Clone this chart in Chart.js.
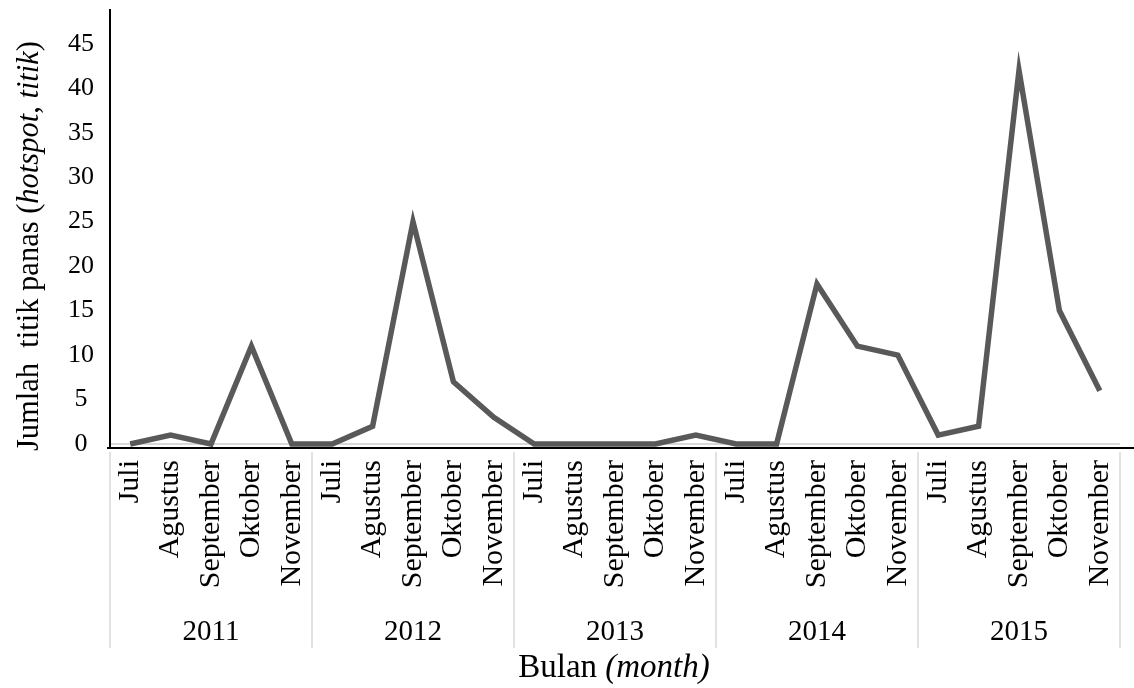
<!DOCTYPE html>
<html>
<head>
<meta charset="utf-8">
<script src="https://cdn.jsdelivr.net/npm/chart.js@4.4.1/dist/chart.umd.min.js"></script>
<style>
  body { margin: 0; background: #fff; }
  canvas { display: block; }
</style>
</head>
<body>
<canvas id="hotspotChart" width="1134" height="688"></canvas>
<script>
const months = ["Juli", "Agustus", "September", "Oktober", "November"];
const years = ["2011", "2012", "2013", "2014", "2015"];
const hotspots = [0, 1, 0, 11, 0, 0, 2, 25, 7, 3, 0, 0, 0, 0, 1, 0, 0, 18, 11, 10, 1, 2, 42, 15, 6];
const yTicks = [0, 5, 10, 15, 20, 25, 30, 35, 40, 45];

const labels = [];
years.forEach(() => months.forEach(m => labels.push(m)));

const serif = "'Liberation Serif', 'Times New Roman', serif";

// draw a line of text made of upright and italic pieces, centred on (x, y)
function mixedText(ctx, parts, x, y, size, angle) {
  ctx.save();
  ctx.translate(x, y);
  ctx.rotate(angle);
  ctx.textBaseline = "middle";
  ctx.textAlign = "left";
  ctx.fillStyle = "#000";
  let total = 0;
  parts.forEach(p => {
    ctx.font = (p.italic ? "italic " : "") + size + "px " + serif;
    p.w = ctx.measureText(p.t).width;
    total += p.w;
  });
  let cx = -total / 2;
  parts.forEach(p => {
    ctx.font = (p.italic ? "italic " : "") + size + "px " + serif;
    ctx.fillText(p.t, cx, 0);
    cx += p.w;
  });
  ctx.restore();
}

const extras = {
  id: "extras",
  afterDraw(chart) {
    const ctx = chart.ctx;
    const area = chart.chartArea;
    const xs = chart.scales.x;

    // x axis line, runs past the plot to the edge
    ctx.save();
    ctx.strokeStyle = "#000";
    ctx.lineWidth = 2;
    ctx.beginPath();
    ctx.moveTo(area.left - 3, area.bottom);
    ctx.lineTo(1134, area.bottom);
    ctx.stroke();

    // year group separators and labels
    ctx.strokeStyle = "#d9d9d9";
    ctx.lineWidth = 1.5;
    for (let g = 0; g <= years.length; g++) {
      const x = xs.getPixelForValue(g * months.length - 0.5);
      ctx.beginPath();
      ctx.moveTo(x, area.bottom + 4);
      ctx.lineTo(x, 648);
      ctx.stroke();
    }
    ctx.fillStyle = "#000";
    ctx.font = "29px " + serif;
    ctx.textAlign = "center";
    ctx.textBaseline = "middle";
    years.forEach((y, g) => {
      ctx.fillText(y, xs.getPixelForValue(g * months.length + 2), 632);
    });
    ctx.restore();

    mixedText(ctx, [{ t: "Bulan " }, { t: "(month)", italic: true }], 614, 668, 33, 0);
    mixedText(ctx, [
      { t: "Jumlah  titik panas (" },
      { t: "hotspot", italic: true },
      { t: ", " },
      { t: "titik", italic: true },
      { t: ")" }
    ], 30, 246, 30.5, -Math.PI / 2);
  }
};

new Chart(document.getElementById("hotspotChart"), {
  type: "line",
  data: {
    labels: labels,
    datasets: [{
      data: hotspots,
      borderColor: "#595959",
      borderWidth: 5.5,
      pointRadius: 0,
      tension: 0,
      fill: false
    }]
  },
  options: {
    responsive: false,
    animation: false,
    layout: { padding: { top: 10, right: 14, left: 0, bottom: 0 } },
    plugins: {
      legend: { display: false },
      tooltip: { enabled: false }
    },
    scales: {
      x: {
        offset: true,
        grid: { display: false, drawTicks: false },
        border: { display: false },
        ticks: {
          autoSkip: false,
          minRotation: 90,
          maxRotation: 90,
          padding: 12,
          color: "#000",
          font: { family: serif, size: 30 }
        },
        afterFit(scale) {
          scale.height = 240;
          scale.paddingLeft = 0;
          scale.paddingRight = 0;
        }
      },
      y: {
        min: -0.45,
        max: 48.8,
        afterBuildTicks(scale) { scale.ticks = yTicks.map(v => ({ value: v })); },
        grid: {
          drawTicks: false,
          lineWidth: 2,
          color: c => (c.tick && c.tick.value === 0 ? "#d9d9d9" : "rgba(0,0,0,0)")
        },
        border: { color: "#000", width: 2 },
        ticks: {
          padding: 16,
          crossAlign: "center",
          color: "#000",
          font: { family: serif, size: 26 }
        },
        afterFit(scale) {
          scale.width = 110;
          scale.paddingTop = 0;
          scale.paddingBottom = 0;
        }
      }
    }
  },
  plugins: [extras]
});
</script>
</body>
</html>
